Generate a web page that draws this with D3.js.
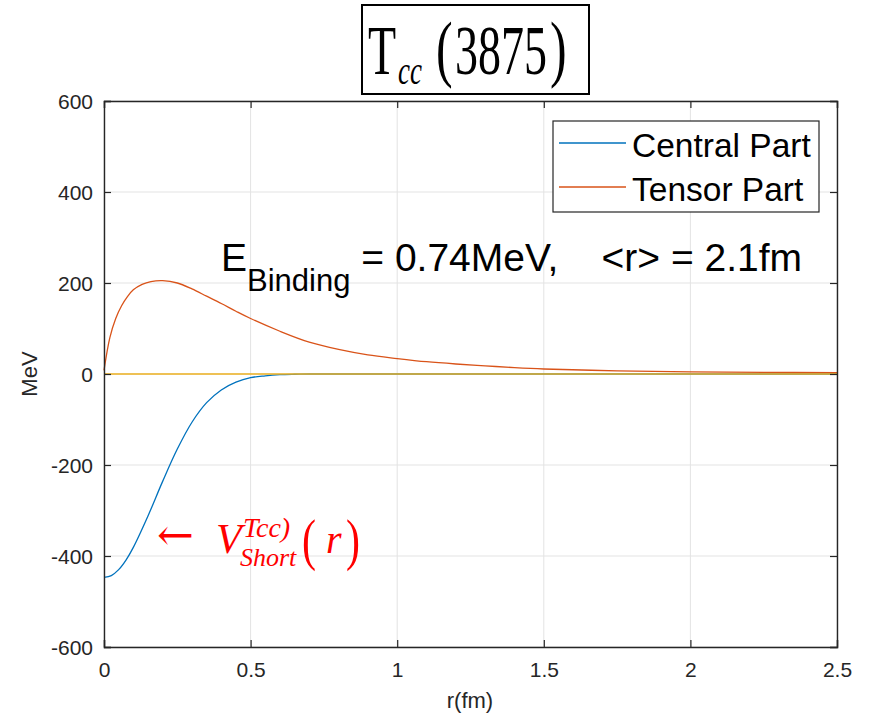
<!DOCTYPE html>
<html><head><meta charset="utf-8">
<script src="https://cdn.jsdelivr.net/npm/d3@7"></script>
<style>body{margin:0;background:#fff}svg{display:block}</style>
</head><body><svg id="c" width="870" height="719"></svg>
<script>
// ---- data ----
const rCentral = [0,0.025,0.05,0.075,0.1,0.15,0.2,0.25,0.3,0.35,0.4,0.45,0.5,0.55,0.6,0.65,0.7,0.8,1.0,1.5,2.0,2.5];
const central  = [-447,-443,-430,-409,-381,-312,-236,-165,-106,-63,-35,-18,-8,-4,-1.5,-0.5,0,0,0,0,0,0];
const rTensor = [0,0.02,0.04,0.06,0.08,0.1,0.13,0.16,0.2,0.25,0.3,0.35,0.4,0.45,0.5,0.6,0.7,0.8,0.9,1.0,1.1,1.2,1.3,1.4,1.5,1.75,2.0,2.25,2.5];
const tensor  = [8,80,122,150,170,185,197,203,205,200,187,171,155,138,122,94,70,54,42,34,27,22,18,14,11,7,4.5,3.5,3];
const rZero = [0,2.5];
const zero = [0,0];
const xTicks = [0,0.5,1,1.5,2,2.5];
const yTicks = [-600,-400,-200,0,200,400,600];
const seriesNames = ["Central Part","Tensor Part"];
const colors = ["#0072BD","#D95319","#EDB120"];

const svg = d3.select("#c");
const L=104,R=837,T=101,B=647;
const x = d3.scaleLinear().domain([0,2.5]).range([L,R]);
const y = d3.scaleLinear().domain([-600,600]).range([B,T]);
const axisCol="#262626";
const sans="'Liberation Sans',Arial,sans-serif";

// grid
const g = svg.append("g");
g.selectAll(".gx").data(xTicks).join("line").attr("x1",d=>x(d)).attr("x2",d=>x(d)).attr("y1",T).attr("y2",B).attr("stroke","#e3e3e3").attr("stroke-width",1);
g.selectAll(".gy").data(yTicks).join("line").attr("y1",d=>y(d)).attr("y2",d=>y(d)).attr("x1",L).attr("x2",R).attr("stroke","#e3e3e3").attr("stroke-width",1);

// lines
const line = d3.line().x(d=>x(d[0])).y(d=>y(d[1])).curve(d3.curveCatmullRom.alpha(0.5));
const sets = [d3.zip(rCentral,central), d3.zip(rTensor,tensor), d3.zip(rZero,zero)];
sets.forEach((s,i)=>{
  svg.append("path").attr("d",line(s)).attr("fill","none").attr("stroke",colors[i]).attr("stroke-width",i==2?1.6:1.3);
});

// axes (MATLAB style: ticks inward, box)
const tl=7;
const fmt = d=>String(d);
const ax = svg.append("g").attr("transform",`translate(0,${B})`).call(d3.axisBottom(x).tickValues(xTicks).tickSize(-tl).tickPadding(15).tickFormat(fmt));
const axTop = svg.append("g").attr("transform",`translate(0,${T})`).call(d3.axisTop(x).tickValues(xTicks).tickSize(-tl).tickFormat(""));
const ay = svg.append("g").attr("transform",`translate(${L},0)`).call(d3.axisLeft(y).tickValues(yTicks).tickSize(-tl).tickPadding(11).tickFormat(fmt));
const ayR = svg.append("g").attr("transform",`translate(${R},0)`).call(d3.axisRight(y).tickValues(yTicks).tickSize(-tl).tickFormat(""));
[ax,axTop,ay,ayR].forEach(a=>{
  a.select(".domain").attr("stroke",axisCol).attr("stroke-width",1.4);
  a.selectAll(".tick line").attr("stroke",axisCol).attr("stroke-width",1.2);
  a.selectAll("text").attr("fill",axisCol).style("font-family",sans).style("font-size","21px");
});
ay.selectAll("text").attr("dy","0.35em");

// axis labels
svg.append("text").attr("x",470).attr("y",708).attr("text-anchor","middle").attr("fill",axisCol)
  .style("font-family",sans).style("font-size","22px").text("r(fm)");
svg.append("text").attr("transform","translate(37,374) rotate(-90)").attr("text-anchor","middle").attr("fill",axisCol)
  .style("font-family",sans).style("font-size","22px").text("MeV");

// legend
const lg = svg.append("g");
lg.append("rect").attr("x",553).attr("y",121).attr("width",266).attr("height",91).attr("fill","#fff").attr("stroke","#262626").attr("stroke-width",1.2);
[[143,157],[187,201]].forEach((p,i)=>{
  lg.append("line").attr("x1",559).attr("x2",626).attr("y1",p[0]).attr("y2",p[0]).attr("stroke",colors[i]).attr("stroke-width",1.3);
  lg.append("text").attr("x",632).attr("y",p[1]).attr("fill","#000").style("font-family",sans).style("font-size","33.5px").text(seriesNames[i]);
});

// binding energy text
const bt = svg.append("text").attr("x",221).attr("y",271).attr("fill","#000").attr("xml:space","preserve").style("white-space","pre").style("font-family",sans).style("font-size","39px");
bt.append("tspan").text("E");
bt.append("tspan").attr("dy",20).style("font-size","31px").text("Binding");
bt.append("tspan").attr("dy",-20).text(" = 0.74MeV,    <r> = 2.1fm");

// title box
svg.append("rect").attr("x",362).attr("y",5).attr("width",227).attr("height",89).attr("fill","#fff").attr("stroke","#000").attr("stroke-width",2);
const tt = svg.append("g").attr("transform","translate(0,74) scale(1,1.5)");
const serif="'Liberation Serif','Times New Roman',serif";
tt.append("text").attr("x",368).attr("y",0).style("font-family",serif).style("font-size","46px").text("T");
tt.append("text").attr("x",398).attr("y",6.5).style("font-family",serif).style("font-style","italic").style("font-size","27px").text("cc");
tt.append("text").attr("x",436).attr("y",-1).style("font-family",serif).style("font-size","50px").text("(");
tt.append("text").attr("x",455).attr("y",0).style("font-family",serif).style("font-size","46px").text("3875");
tt.append("text").attr("x",550).attr("y",-1).style("font-family",serif).style("font-size","50px").text(")");

// annotation
const red="#ff0000";
svg.append("text").attr("x",157).attr("y",550).attr("fill",red).style("font-family","'DejaVu Serif',serif").style("font-size","44px").text("←");
svg.append("text").attr("x",216).attr("y",553).attr("fill",red).style("font-family",serif).style("font-style","italic").style("font-size","42px").text("V");
svg.append("text").attr("x",243).attr("y",537).attr("fill",red).style("font-family",serif).style("font-style","italic").style("font-size","28px").text("Tcc)");
svg.append("text").attr("x",240).attr("y",566).attr("fill",red).style("font-family",serif).style("font-style","italic").style("font-size","26px").text("Short");
const pa = svg.append("g").attr("transform","translate(0,559) scale(1,1.35)");
pa.append("text").attr("x",302).attr("y",0).attr("fill",red).style("font-family",serif).style("font-size","42px").text("(");
pa.append("text").attr("x",346).attr("y",0).attr("fill",red).style("font-family",serif).style("font-size","42px").text(")");
svg.append("text").attr("x",326).attr("y",553).attr("fill",red).style("font-family",serif).style("font-style","italic").style("font-size","40px").text("r");
</script></body></html>
